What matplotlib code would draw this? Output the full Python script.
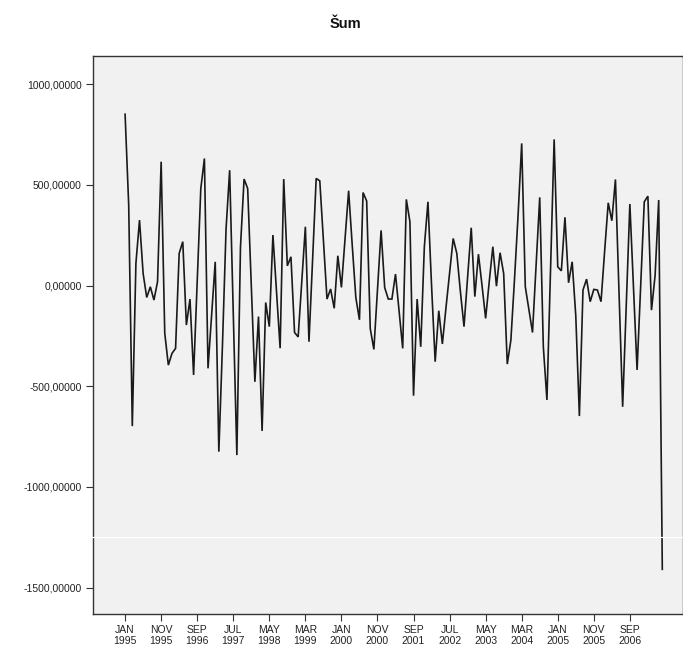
import matplotlib
matplotlib.use("Agg")
import matplotlib.pyplot as plt

plt.rcParams['font.family'] = ['Liberation Sans', 'DejaVu Sans']

title = "Šum"

values = [
    851, 400, -698, 110, 325, 60, -59, -6, -72, 19,
    615, -237, -395, -337, -312, 160, 218, -196, -67, -444,
    20, 482, 631, -411, -150, 118, -825, -300, 280, 573,
    -135, -842, 190, 529, 482, 0, -478, -154, -722, -84,
    -204, 251, -30, -311, 529, 98, 143, -233, -255, 20,
    292, -279, 130, 532, 520, 230, -67, -17, -113, 148,
    -9, 230, 471, 200, -60, -170, 462, 420, -214, -317,
    -20, 274, -10, -67, -67, 57, -130, -312, 428, 317,
    -547, -67, -304, 193, 416, 0, -378, -125, -290, -110,
    60, 234, 160, -30, -204, 40, 287, -55, 156, 0,
    -163, 20, 193, -3, 163, 60, -390, -271, 30, 350,
    706, -6, -120, -233, 100, 438, -304, -568, 80, 726,
    93, 73, 339, 14, 118, -150, -648, -22, 32, -80,
    -19, -22, -80, 170, 411, 322, 527, -40, -602, -100,
    405, -10, -419, 0, 416, 444, -122, 50, 425, -1409,
]

tick_positions = [0, 10, 20, 30, 40, 50, 60, 70, 80, 90, 100, 110, 120, 130, 140]
tick_labels = ["JAN\n1995", "NOV\n1995", "SEP\n1996", "JUL\n1997", "MAY\n1998",
               "MAR\n1999", "JAN\n2000", "NOV\n2000", "SEP\n2001", "JUL\n2002",
               "MAY\n2003", "MAR\n2004", "JAN\n2005", "NOV\n2005", "SEP\n2006"]

y_ticks = [1000, 500, 0, -500, -1000, -1500]
y_labels = ["1000,00000", "500,00000", "0,00000", "-500,00000", "-1000,00000", "-1500,00000"]

W, H = 683, 650
fig = plt.figure(figsize=(W / 100, H / 100), dpi=100)
left, right, top, bottom = 93, 682.5, 56, 614
ax = fig.add_axes([left / W, 1 - bottom / H, (right - left) / W, (bottom - top) / H])
ax.set_facecolor("#f0f1f0")

x = list(range(len(values)))
ax.plot(x, values, color="#1a1a1a", lw=1.2, solid_joinstyle="miter")

ax.set_xlim(-8.9, 154.6)
ax.set_ylim(-1631, 1140)

ax.set_xticks(tick_positions)
ax.set_xticklabels(tick_labels, fontsize=7.5, linespacing=1.05)
ax.set_yticks(y_ticks)
ax.set_yticklabels(y_labels, fontsize=7.5)
ax.tick_params(direction="out", length=5, width=0.8, color="#333333", pad=3, labelcolor="#222222")

for s in ax.spines.values():
    s.set_color("#333333")
    s.set_linewidth(1.0)

# faint white artifact line
ax.axhline(-1250, xmin=-0.005, xmax=1.0, color="white", lw=0.9, zorder=10, clip_on=False)

fig.text(345 / W, 1 - 24 / H, title, ha="center", va="center", fontsize=10.5, fontweight="bold", color="#111111")

fig.savefig("out.png", dpi=100)
